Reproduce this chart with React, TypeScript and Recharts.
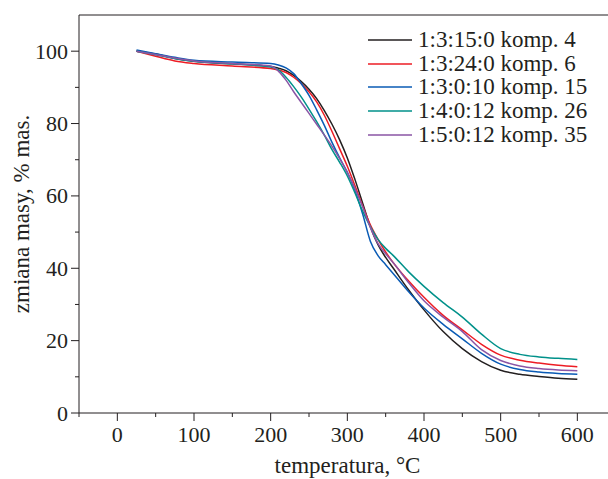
import React from 'react';
import { LineChart, Line, XAxis, YAxis, ReferenceLine, Legend } from 'recharts';

const temps = [25, 50, 75, 100, 150, 200, 210, 220, 230, 240, 250, 260, 270, 280, 290, 300, 310, 320, 330, 340, 350, 360, 380, 400, 425, 450, 475, 500, 525, 550, 575, 600];

const komp4 = [100, 99.2, 98, 97.2, 96.5, 95.8, 95.3, 94.6, 93.3, 91.6, 89.5, 86.9, 83.6, 79.8, 75.5, 70.5, 64.5, 58, 51.5, 46.5, 43, 40, 34, 28.5, 22.5, 17.8, 14.2, 11.8, 10.7, 10.1, 9.6, 9.3];
const komp6 = [100, 98.6, 97.3, 96.6, 95.9, 95.2, 94.8, 94.1, 92.8, 91, 88.8, 86, 82.3, 77.8, 73, 68.2, 62.8, 57.2, 52, 48, 44.5, 41.5, 36.5, 32, 27, 23, 19, 16, 14.6, 13.8, 13.2, 12.8];
const komp15 = [100.3, 99.3, 98.3, 97.5, 97, 96.6, 96.2, 95.4, 93.8, 91, 87.8, 83.8, 79.5, 74.8, 70.5, 66.5, 61.5, 55, 47.5, 43.5, 41, 38.5, 33.5, 29, 24.5, 20.5, 16.5, 13.5, 12, 11.3, 10.9, 10.7];
const komp26 = [100, 99, 98, 97.2, 96.5, 95.6, 94.8, 92.8, 90.2, 87.3, 84, 80.5, 76.8, 72.8, 69.3, 65.5, 60.8, 55.8, 51.5, 48, 45.5, 43.5, 39, 35, 30.5, 26.5, 21.8, 17.8, 16.2, 15.5, 15.1, 14.8];
const komp35 = [100, 99.1, 98.1, 97.3, 96.6, 95.9, 94.5, 92, 88.8, 85.8, 82.8, 79.8, 76.8, 73.7, 70.3, 66.5, 62, 57, 51.3, 46.8, 44, 41.5, 36, 31, 26.5, 22.5, 17.5, 14.5, 13, 12.3, 11.9, 11.7];

const seriesNames = ['1:3:15:0 komp. 4', '1:3:24:0 komp. 6', '1:3:0:10 komp. 15', '1:4:0:12 komp. 26', '1:5:0:12 komp. 35'];
const seriesKeys = ['k4', 'k6', 'k15', 'k26', 'k35'];
const seriesValues = [komp4, komp6, komp15, komp26, komp35];
const seriesColors = ['#231f20', '#ed1c24', '#0a5bb5', '#00918a', '#8a55a5'];

const xTicks = [-50, 0, 50, 100, 150, 200, 250, 300, 350, 400, 450, 500, 550, 600];
const yTicks = [0, 10, 20, 30, 40, 50, 60, 70, 80, 90, 100];

const xTitle = 'temperatura, °C';
const yTitle = 'zmiana masy, % mas.';

const data = temps.map((t, i) => {
  const row: any = { t };
  seriesKeys.forEach((k, j) => { row[k] = seriesValues[j][i]; });
  return row;
});

const FONT = '"Liberation Serif", "Times New Roman", serif';
const INK = '#231f20';

const XTick = (props: any) => {
  const { x, y, payload } = props;
  const major = payload.value % 100 === 0;
  return (
    <g>
      <line x1={x} x2={x} y1={y} y2={y + (major ? 8 : 4)} stroke={INK} strokeWidth={1} />
      {major && (
        <text x={x} y={y + 29} textAnchor="middle" fontFamily={FONT} fontSize={22} fill={INK}>
          {payload.value}
        </text>
      )}
    </g>
  );
};

const YTick = (props: any) => {
  const { x, y, payload } = props;
  const major = payload.value % 20 === 0;
  return (
    <g>
      <line x1={x - (major ? 8 : 4)} x2={x} y1={y} y2={y} stroke={INK} strokeWidth={1} />
      {major && (
        <text x={x - 11} y={y + 7.5} textAnchor="end" fontFamily={FONT} fontSize={22} fill={INK}>
          {payload.value}
        </text>
      )}
    </g>
  );
};

const LegendContent = () => (
  <div style={{ fontFamily: FONT, fontSize: 23, color: INK, lineHeight: '23.7px' }}>
    {seriesNames.map((n, i) => (
      <div key={n} style={{ display: 'flex', alignItems: 'center', whiteSpace: 'nowrap', height: 23.7 }}>
        <svg width={50} height={4} style={{ display: 'block' }}>
          <line x1={0} x2={44} y1={2} y2={2} stroke={seriesColors[i]} strokeWidth={1.5} />
        </svg>
        <span>{n}</span>
      </div>
    ))}
  </div>
);

export default function App() {
  return (
    <div style={{ position: 'absolute', left: 0, top: 0, width: 608, height: 479, background: '#fff' }}>
      <LineChart width={608} height={479} data={data} margin={{ top: 15, right: 0, bottom: 0, left: 0 }}>
        <XAxis
          dataKey="t"
          type="number"
          domain={[-50, 640]}
          ticks={xTicks}
          interval={0}
          height={66}
          tickSize={0}
          tickMargin={0}
          tickLine={false}
          tick={<XTick />}
          axisLine={{ stroke: INK, strokeWidth: 1 }}
          allowDataOverflow
          label={{
            content: (p: any) => {
              const vb = p.viewBox || {};
              return (
                <text x={vb.x + 268.5} y={vb.y + 60} textAnchor="middle" fontFamily={FONT} fontSize={23} fill={INK}>
                  {xTitle}
                </text>
              );
            },
          }}
        />
        <YAxis
          type="number"
          domain={[0, 110]}
          ticks={yTicks}
          interval={0}
          width={79}
          tickSize={0}
          tickMargin={0}
          tickLine={false}
          tick={<YTick />}
          axisLine={{ stroke: INK, strokeWidth: 1 }}
          allowDataOverflow
          label={{
            content: (p: any) => {
              const vb = p.viewBox || {};
              const cx = vb.x + 21;
              const cy = vb.y + vb.height / 2;
              return (
                <text x={cx} y={cy} transform={`rotate(-90 ${cx} ${cy})`} textAnchor="middle" dominantBaseline="central" fontFamily={FONT} fontSize={23} fill={INK}>
                  {yTitle}
                </text>
              );
            },
          }}
        />
        <ReferenceLine y={110} stroke={INK} strokeWidth={1} />
        {seriesKeys.map((k, i) => (
          <Line
            key={k}
            dataKey={k}
            name={seriesNames[i]}
            type="monotone"
            stroke={seriesColors[i]}
            strokeWidth={1.5}
            dot={false}
            isAnimationActive={false}
          />
        ))}
        <Legend
          layout="vertical"
          align="center"
          verticalAlign="middle"
          content={<LegendContent />}
          wrapperStyle={{ position: 'absolute', left: 368, top: 28, width: 240, height: 120 }}
        />
      </LineChart>
    </div>
  );
}
